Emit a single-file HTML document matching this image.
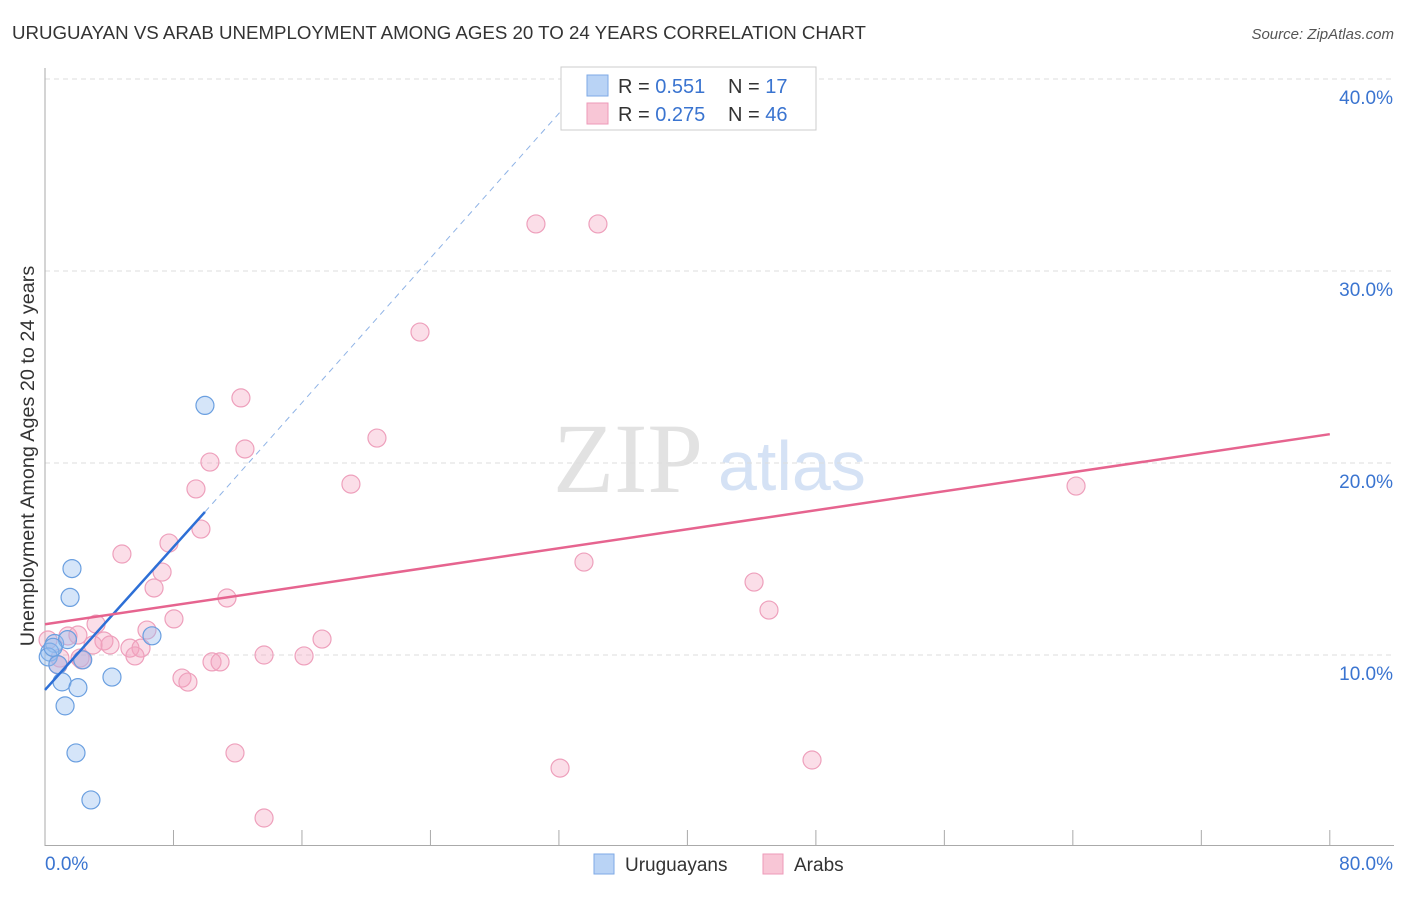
<!DOCTYPE html>
<html><head><meta charset="utf-8"><style>
body{margin:0;background:#fff;font-family:"Liberation Sans",sans-serif;}
svg text{font-family:"Liberation Sans",sans-serif;}
</style></head><body>
<svg id="chart" width="1406" height="892">
<text x="12" y="39" font-size="18.7" fill="#333">URUGUAYAN VS ARAB UNEMPLOYMENT AMONG AGES 20 TO 24 YEARS CORRELATION CHART</text>
<text x="1394" y="39" font-size="15" fill="#555" font-style="italic" text-anchor="end">Source: ZipAtlas.com</text>
<text x="553" y="492" font-size="100" fill="#e2e2e2" style="font-family:'Liberation Serif',serif">ZIP</text>
<text x="718" y="490" font-size="70" fill="#d5e2f5">atlas</text>
<text transform="translate(34,456) rotate(-90)" font-size="19.8" fill="#333" text-anchor="middle">Unemployment Among Ages 20 to 24 years</text>
<g id="grid"></g><g id="marks"></g>
<rect x="561" y="67" width="255" height="63" fill="#fff" stroke="#ccc"/>
<rect x="587" y="75" width="21" height="21" fill="#b9d3f5" stroke="#7ea9e6"/>
<rect x="587" y="103" width="21" height="21" fill="#f8c6d6" stroke="#ee9ab8"/>
<text x="618" y="93" font-size="20" fill="#333">R = <tspan fill="#3a74d0">0.551</tspan></text>
<text x="728" y="93" font-size="20" fill="#333">N = <tspan fill="#3a74d0"> 17</tspan></text>
<text x="618" y="121" font-size="20" fill="#333">R = <tspan fill="#3a74d0">0.275</tspan></text>
<text x="728" y="121" font-size="20" fill="#333">N = <tspan fill="#3a74d0">46</tspan></text>
<rect x="594" y="854" width="20" height="20" fill="#b9d3f5" stroke="#7ea9e6"/>
<text x="625" y="871" font-size="19" fill="#333">Uruguayans</text>
<rect x="763" y="854" width="20" height="20" fill="#f8c6d6" stroke="#ee9ab8"/>
<text x="794" y="871" font-size="19" fill="#333">Arabs</text>
</svg>
<script>
const blueX=[9.96,1.68,1.56,6.66,4.17,1.06,2.05,1.25,1.93,2.86,0.6,0.3,1.4,2.35,0.2,0.8,0.5];
const blueY=[23.0,14.5,13.0,11.0,8.85,8.6,8.3,7.35,4.9,2.45,10.6,10.15,10.8,9.75,9.9,9.5,10.4];
const pinkX=[30.57,34.43,23.35,12.2,20.67,12.45,10.27,9.4,19.05,64.2,9.71,7.72,4.79,33.56,7.29,44.15,6.79,11.33,45.08,8.03,3.18,6.35,1.43,2.05,17.25,3.67,4.05,5.29,5.98,13.64,16.13,5.6,2.99,0.93,2.18,2.3,10.4,10.9,0.81,8.53,8.9,11.83,32.07,47.76,13.64,0.19];
const pinkY=[32.45,32.45,26.82,23.39,21.3,20.73,20.05,18.65,18.9,18.8,16.56,15.83,15.26,14.84,14.32,13.8,13.49,12.97,12.34,11.88,11.61,11.3,10.99,11.04,10.83,10.73,10.52,10.36,10.36,10.0,9.95,9.95,10.52,9.84,9.84,9.74,9.64,9.64,9.48,8.8,8.59,4.9,4.11,4.53,1.51,10.78];
const yTicks=[10,20,30,40];
const xTickVals=[8,16,24,32,40,48,56,64,72,80];
const blueTrend=[[0,8.18],[9.96,17.45],[33.9,40]];
const pinkTrend=[[0,11.6],[80,21.5]];
const NS="http://www.w3.org/2000/svg";
const sx=v=>45+v*16.06, sy=v=>847-v*19.2;
function mk(tag,attrs,parent){const e=document.createElementNS(NS,tag);for(const k in attrs)e.setAttribute(k,attrs[k]);parent.appendChild(e);return e;}
const grid=document.getElementById('grid'), marks=document.getElementById('marks');
yTicks.forEach(t=>{
 const l=mk('line',{x1:45,x2:1394,y1:sy(t),y2:sy(t),stroke:'#ddd','stroke-dasharray':'5,4'},grid);
 
 
 const tx=mk('text',{x:1393,y:sy(t)+25,'font-size':19,fill:'#3a74d0','text-anchor':'end'},grid);
 tx.textContent=t.toFixed(1)+'%';
 
 
});
const ax=mk('line',{x1:45,x2:45,y1:68,y2:846,stroke:'#aaa'},grid);


const xa=mk('line',{x1:45,x2:1394,y1:845.5,y2:845.5,stroke:'#aaa'},grid);


xTickVals.forEach(t=>{
 const l=mk('line',{x1:sx(t),x2:sx(t),y1:830,y2:846,stroke:'#aaa'},grid);
 
 
});
const x0=mk('text',{x:45,y:870,'font-size':19,fill:'#3a74d0'},grid);x0.textContent='0.0%';


const x1=mk('text',{x:1393,y:870,'font-size':19,fill:'#3a74d0','text-anchor':'end'},grid);x1.textContent='80.0%';


pinkX.forEach((x,i)=>{
 const c=mk('circle',{cx:sx(x),cy:sy(pinkY[i]),r:9,fill:'rgba(244,160,190,0.35)',stroke:'#eea0bc','stroke-width':1.2},marks);
 
 
});
blueX.forEach((x,i)=>{
 const c=mk('circle',{cx:sx(x),cy:sy(blueY[i]),r:9,fill:'rgba(150,190,240,0.4)',stroke:'#6a9fe0','stroke-width':1.2},marks);
 
 
});
const bl=mk('line',{x1:sx(blueTrend[0][0]),y1:sy(blueTrend[0][1]),x2:sx(blueTrend[1][0]),y2:sy(blueTrend[1][1]),stroke:'#2d6fd6','stroke-width':2.5},marks);


const bd=mk('line',{x1:sx(blueTrend[1][0]),y1:sy(blueTrend[1][1]),x2:sx(blueTrend[2][0]),y2:sy(blueTrend[2][1]),stroke:'#8fb3e6','stroke-width':1,'stroke-dasharray':'6,5'},marks);


const pl=mk('line',{x1:sx(pinkTrend[0][0]),y1:sy(pinkTrend[0][1]),x2:sx(pinkTrend[1][0]),y2:sy(pinkTrend[1][1]),stroke:'#e6648f','stroke-width':2.5},marks);


</script>
</body></html>
